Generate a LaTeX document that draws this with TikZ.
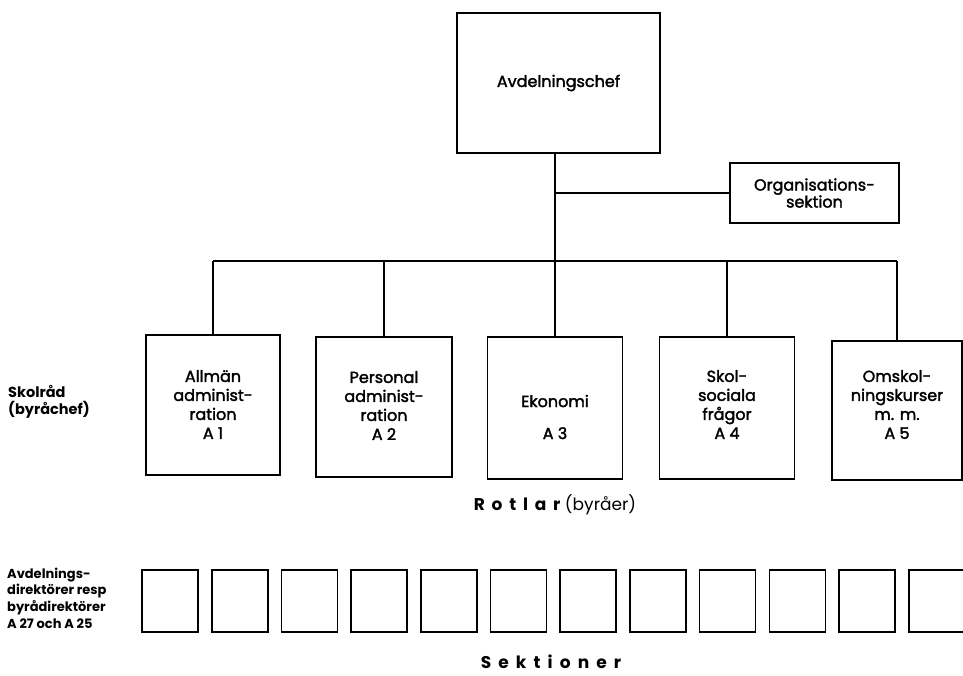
\documentclass[tikz,border=0pt]{standalone}
\usepackage{fontspec}
\setmainfont{Poppins}
\newfontfamily\boxfont{Poppins}[FakeBold=2]
\begin{document}
\begin{tikzpicture}[x=1pt,y=-1pt,
  ln/.style={line width=1.6pt},
  box/.style={draw, ln, inner sep=0pt},
  txt/.style={inner sep=0pt, align=center, font=\boxfont\fontsize{16}{19}\selectfont},
  lbl/.style={inner sep=0pt, align=left, anchor=west, font=\bfseries\fontsize{13}{16.7}\selectfont},
  sek/.style={box, minimum width=56pt, minimum height=62pt}]
\useasboundingbox (0,0) rectangle (963,675);
% top
\node[box, minimum width=203pt, minimum height=140pt] (chef) at (558.5,83) {};
\node[txt] (chefT) at (chef.center) {Avdelningschef};
\node[box, minimum width=169pt, minimum height=60pt] (org) at (814.5,193) {};
\node[txt, font=\boxfont\fontsize{16}{17}\selectfont] (orgT) at (org.center) {Organisations-\\sektion};
% rotlar
\node[box, minimum width=134pt, minimum height=140pt] (a1) at (213,405) {};
\node[box, minimum width=136pt, minimum height=140pt] (a2) at (384,407) {};
\node[box, minimum width=135pt, minimum height=142pt] (a3) at (555,408) {};
\node[box, minimum width=135pt, minimum height=142pt] (a4) at (727,408) {};
\node[box, minimum width=130pt, minimum height=139pt] (a5) at (897,410.5) {};
\node[txt] (a1T) at (213,404.5) {Allmän\\administ-\\ration\\A 1};
\node[txt] (a2T) at (384,405.5) {Personal\\administ-\\ration\\A 2};
\node[txt] (a3T) at (555,417) {Ekonomi\\[13pt]A 3};
\node[txt] (a4T) at (727,404.5) {Skol-\\sociala\\frågor\\A 4};
\node[txt] (a5T) at (897,404.5) {Omskol-\\ningskurser\\m. m.\\A 5};
% connectors
\coordinate (j) at (555,261);
\draw[ln] (chef.south -| j) -- (j);
\draw[ln] (j |- org.west) -- (org.west);
\draw[ln] (a1.north |- j) -- (a5.north |- j);
\foreach \n in {a1,a2,a3,a4,a5} \draw[ln] (\n.north |- j) -- (\n.north);
% labels
\node[lbl, font=\bfseries\fontsize{14.5}{17}\selectfont] (sk) at (8,401.5) {Skolråd\\(byråchef)};
\node[font=\fontsize{17}{20}\selectfont, inner sep=0pt] (rot) at (555,505)
  {{\bfseries\addfontfeature{LetterSpace=40}Rotlar} (byråer)};
% sektioner
\foreach \i in {0,...,11} \node[sek] (s\i) at (170+\i*69.7,601) {};
\node[lbl] (ad) at (7,598) {Avdelnings-\\direktörer resp\\byrådirektörer\\A 27 och A 25};
\node[font=\bfseries\fontsize{17}{20}\selectfont, inner sep=0pt] (sekT) at (551,662)
  {\addfontfeature{LetterSpace=42}Sektioner};
\end{tikzpicture}
\end{document}
